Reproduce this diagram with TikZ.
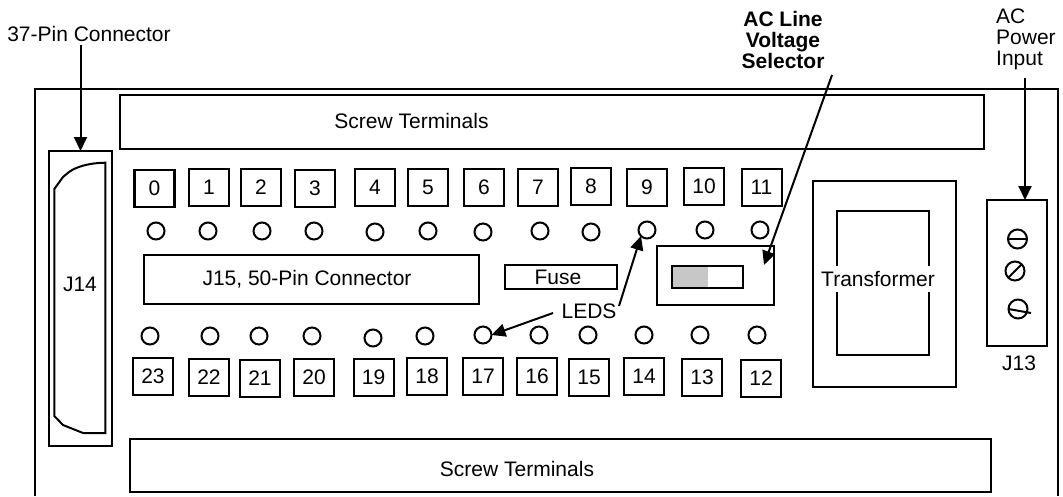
\documentclass[tikz,border=0pt]{standalone}
\usepackage{fontspec}
\setmainfont{Liberation Sans}
\usetikzlibrary{arrows.meta}

\tikzset{
    plain/.style={draw, rectangle, line width=2pt, inner sep=0pt, outer sep=0pt},
    pinbox/.style={plain, minimum width=40pt, minimum height=37pt},
    led/.style={draw, circle, line width=2pt, minimum size=17pt, inner sep=0pt, outer sep=0pt},
    screw/.style={draw, circle, line width=2pt, minimum size=19pt, inner sep=0pt, outer sep=0pt},
    callout/.style={-{Triangle[length=14pt, width=13pt]}, line width=2pt},
    every node/.append style={font=\fontsize{21}{21}\selectfont},
}

\begin{document}
\begin{tikzpicture}[x=1pt, y=-1pt]
    \useasboundingbox (0, 0) rectangle (1063, 496);
    \draw[line width=2pt] (34.5, 496)--(34.5, 89)--(1058, 89)--(1058, 496);

    % terminals and connectors
    \node[plain, minimum width=864pt, minimum height=54pt] (topterm) at(552, 122){};
    \node (topterm text) at(411.5, 121) {Screw Terminals};
    \node[plain, minimum width=861pt, minimum height=53pt] (botterm) at(560.5, 465.5){};
    \node (botterm text) at(517, 469) {Screw Terminals};
    \node[plain, minimum width=63pt, minimum height=295pt] (j14) at(80.5, 298.5){};
    \draw[line width=2pt] (105.3, 162.7)..controls (88, 163) and (76, 167) .. (69, 172)--(63, 177)--(54.3, 189)--(54.3, 416)--(63, 425)--(83, 433)--(105.3, 433)--cycle;
    \node (j14 text) at(80, 284) {J14};
    \node[plain, minimum width=335pt, minimum height=49pt] (j15) at(311.5, 279.5){};
    \node (j15 text) at(307, 279) {J15, 50-Pin Connector};
    \node[plain, minimum width=112pt, minimum height=24pt] (fuse) at(561, 277){};
    \node (fuse text) at(558, 277) {Fuse};

    % voltage selector
    \node[plain, minimum width=117pt, minimum height=59pt] (selector) at(715.5, 275.5){};
    \fill[black!22] (672, 266) rectangle (708, 288);
    \node[plain, minimum width=71pt, minimum height=22pt] (slider) at(707.5, 277){};

    % transformer
    \node[plain, minimum width=143pt, minimum height=206pt] (xfmr) at(884.5, 284){};
    \node[plain, minimum width=92pt, minimum height=144pt] (core) at(883, 283){};
    \node[fill=white, inner xsep=0pt, inner ysep=5pt] (xfmr text) at(878, 279) {Transformer};

    % power input
    \node[plain, minimum width=60pt, minimum height=146pt] (j13) at(1017, 273){};
    \node (j13 text) at(1019, 363) {J13};
    \node[screw] (s1) at(1017.5, 239){};
    \node[screw] (s2) at(1015, 271){};
    \node[screw] (s3) at(1018, 309){};
    \draw[line width=2pt] (s1.west)--(s1.east);
    \draw[line width=2pt] (s2.south west)--(s2.north east);
    \draw[line width=2pt] (s3.west)--(1031, 313);

    % numbered switches
    \foreach \n/\x/\y in {1/209/187.5, 2/261/187.5, 3/315/188.5, 4/375/187.5, 5/428/187.5, 6/484/187.5, 7/538/187.5, 8/591/186.5, 9/647/187.5, 10/704/186.5, 11/761.5/187.5,
        12/761/378.5, 13/702/377.5, 14/644/376.5, 15/589/377.5, 16/537/376.5, 17/483/376.5, 18/427/376.5, 19/373.5/377.5, 20/314/377.5, 21/260/378.5, 22/209/377.5, 23/153/376.5}
        \node[pinbox] (sw\n) at(\x, \y) {\n};
    \node[pinbox, line width=2.6pt] (sw0) at(154.5, 188.5) {0};

    % leds
    \foreach \n/\x/\y in {0/156/231, 1/208/231, 2/262/231, 3/314/231, 4/375/232, 5/428/231, 6/483/232, 7/540/231, 8/591/232, 9/647/230, 10/705/230, 11/760/230,
        12/757/335, 13/700/335, 14/644/335, 15/588/335, 16/539/335, 17/483/335, 18/425/336, 19/373/338, 20/312/336, 21/259/336, 22/210/336, 23/150/336}
        \node[led] (led\n) at(\x, \y){};

    % callouts
    \node (pinlabel) at(89, 34) {37-Pin Connector};
    \draw[callout] (j14.north |- pinlabel.south)--(j14.north);

    \node[align=center, font=\fontsize{21}{21}\selectfont\bfseries] (sellabel) at(783, 40) {AC Line\\Voltage\\Selector};
    \coordinate (selfrom) at(832, 75);
    \coordinate (selto) at(764, 265);
    \draw[callout] (selfrom)--(selto);

    \node[align=left, anchor=west, inner sep=0pt] (aclabel) at(996, 39) {AC\\Power\\Input};
    \coordinate (acfrom) at(1025, 78);
    \draw[callout] (acfrom)--(acfrom |- j13.north);

    \node (leds) at(589, 311) {LEDS};
    \coordinate (ledsup) at(619, 306);
    \coordinate (ledsdown) at(553, 313);
    \draw[callout] (ledsup)--(led9.south west);
    \draw[callout] (ledsdown)--(led17.east);
\end{tikzpicture}
\end{document}
